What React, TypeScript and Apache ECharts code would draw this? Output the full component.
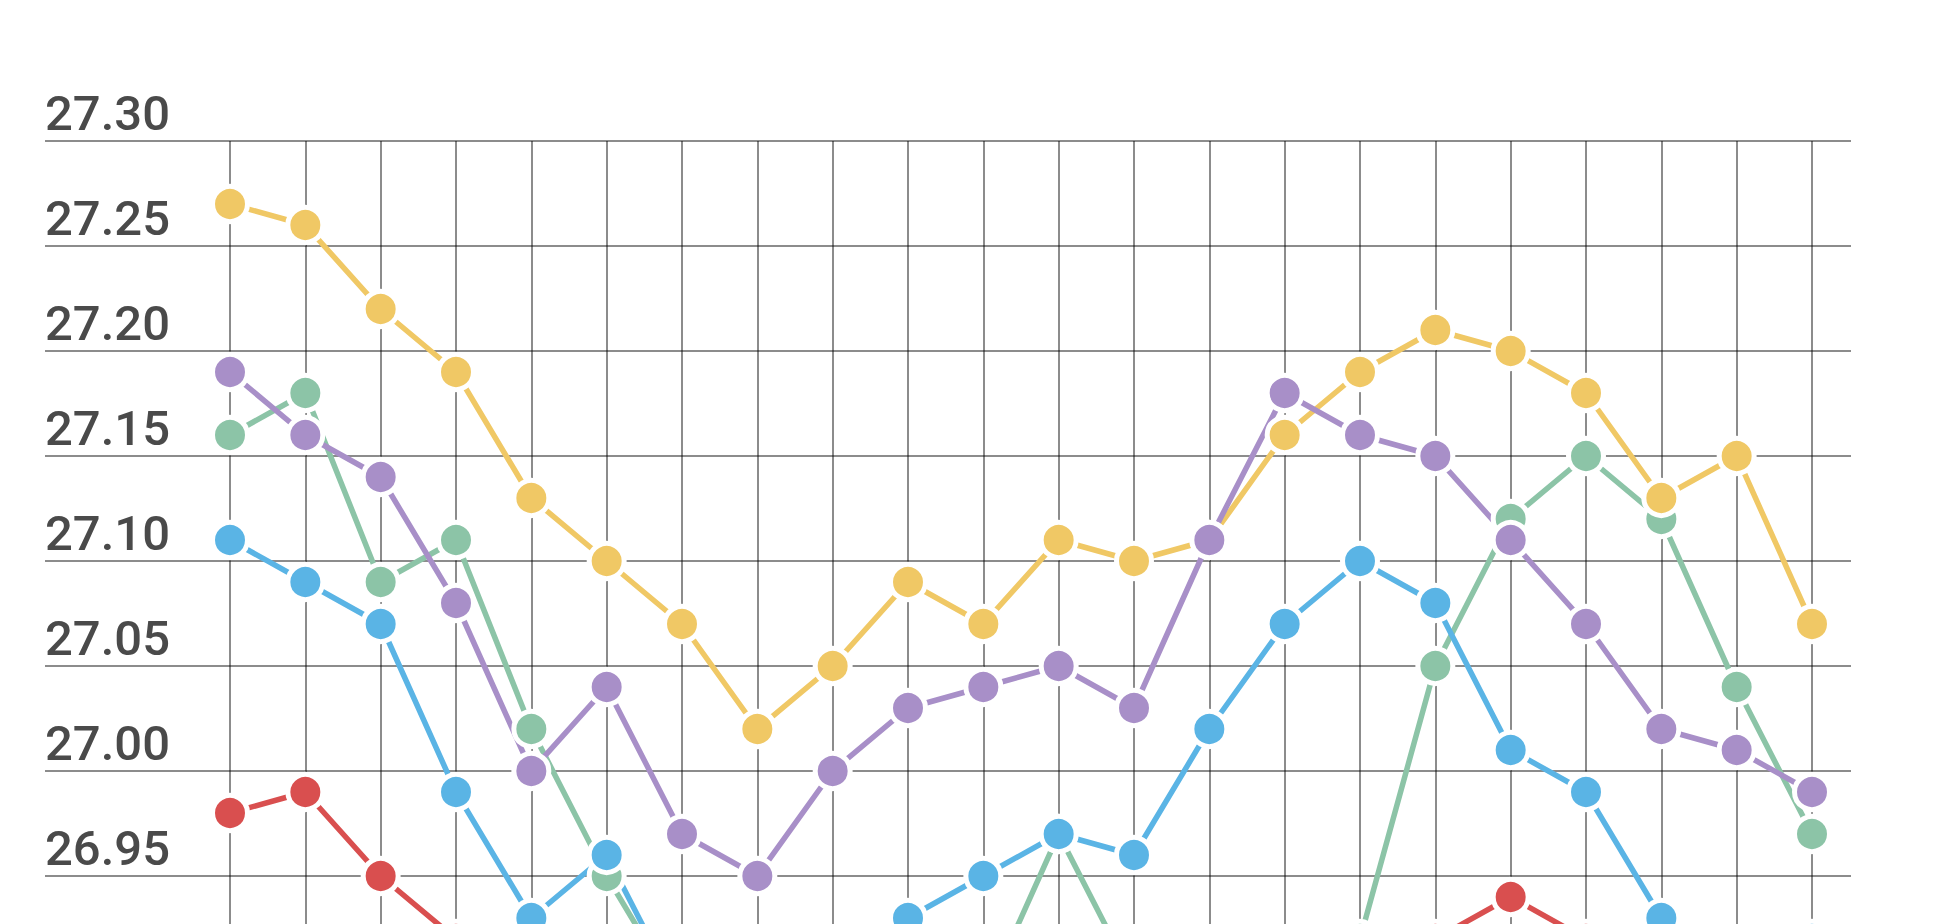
import { useEffect, useRef } from 'react';
import * as echarts from 'echarts';

const categories = ['1', '2', '3', '4', '5', '6', '7', '8', '9', '10', '11', '12', '13', '14', '15', '16', '17', '18', '19', '20', '21', '22'];

const redValues = [26.98, 26.99, 26.95, 26.92, 26.9, 26.88, 26.87, 26.86, 26.88, 26.87, 26.89, 26.9, 26.88, 26.87, 26.89, 26.91, 26.92, 26.94, 26.92, 26.9, 26.89, 26.88];
const greenValues = [27.16, 27.18, 27.09, 27.11, 27.02, 26.95, 26.89, 26.86, 26.85, 26.86, 26.89, 26.97, 26.9, 26.87, 26.86, 26.92, 27.05, 27.12, 27.15, 27.12, 27.04, 26.97];
const yellowValues = [27.27, 27.26, 27.22, 27.19, 27.13, 27.1, 27.07, 27.02, 27.05, 27.09, 27.07, 27.11, 27.1, 27.11, 27.16, 27.19, 27.21, 27.2, 27.18, 27.13, 27.15, 27.07];
const blueValues = [27.11, 27.09, 27.07, 26.99, 26.93, 26.96, 26.89, 26.88, 26.91, 26.93, 26.95, 26.97, 26.96, 27.02, 27.07, 27.1, 27.08, 27.01, 26.99, 26.93, 26.88, 26.92];
const purpleValues = [27.19, 27.16, 27.14, 27.08, 27.0, 27.04, 26.97, 26.95, 27.0, 27.03, 27.04, 27.05, 27.03, 27.11, 27.18, 27.16, 27.15, 27.11, 27.07, 27.02, 27.01, 26.99];

const yMin = 26.8;
const yMax = 27.3;
const yStep = 0.05;
// ticks under this value sit below the visible window, so they get no label
const lowestLabel = 26.94;

const gridColor = 'rgba(0,0,0,0.45)';

export default function App() {
  const chartRef = useRef<HTMLDivElement>(null);

  useEffect(() => {
    if (!chartRef.current) return;
    const chart = echarts.init(chartRef.current, undefined, { renderer: 'svg' });

    const line = (name: string, data: number[], color: string) => ({
      name,
      type: 'line',
      data,
      symbol: 'circle',
      symbolSize: 35,
      showAllSymbol: true,
      lineStyle: { color, width: 5.5 },
      itemStyle: { color, borderColor: '#fff', borderWidth: 5 },
      emphasis: { disabled: true },
    });

    chart.setOption({
      animation: false,
      grid: { left: 230, right: 132, top: 141, height: 1050 },
      xAxis: {
        type: 'category',
        data: categories,
        boundaryGap: false,
        axisLine: { show: false },
        axisTick: { show: false },
        axisLabel: { show: false },
        splitLine: { show: true, interval: 0, lineStyle: { color: gridColor, width: 2 } },
      },
      yAxis: [
        {
          type: 'value',
          min: yMin,
          max: yMax,
          interval: yStep,
          axisLine: { show: false },
          axisTick: { show: true, length: 185, lineStyle: { color: gridColor, width: 2 } },
          axisLabel: {
            align: 'left',
            verticalAlign: 'bottom',
            margin: 185,
            padding: [0, 0, 3, 0],
            color: '#4a4a4a',
            fontFamily: 'Roboto',
            fontWeight: 500,
            fontSize: 49,
            formatter: (v: number) => (v < lowestLabel ? '' : v.toFixed(2)),
          },
          splitLine: { show: true, lineStyle: { color: gridColor, width: 2 } },
        },
        {
          type: 'value',
          position: 'right',
          min: yMin,
          max: yMax,
          interval: yStep,
          axisLine: { show: false },
          axisTick: { show: true, length: 39, lineStyle: { color: gridColor, width: 2 } },
          axisLabel: { show: false },
          splitLine: { show: false },
        },
      ],
      series: [
        line('red', redValues, '#d94f4f'),
        line('green', greenValues, '#8cc4a7'),
        line('yellow', yellowValues, '#f0c865'),
        line('blue', blueValues, '#5ab4e5'),
        line('purple', purpleValues, '#a88fc8'),
      ],
    });

    return () => chart.dispose();
  }, []);

  return (
    <div style={{ position: 'fixed', left: 0, top: 0, width: '100vw', height: '100vh', overflow: 'hidden', background: '#fff' }}>
      <div ref={chartRef} style={{ width: 1944, height: 1300 }} />
    </div>
  );
}
